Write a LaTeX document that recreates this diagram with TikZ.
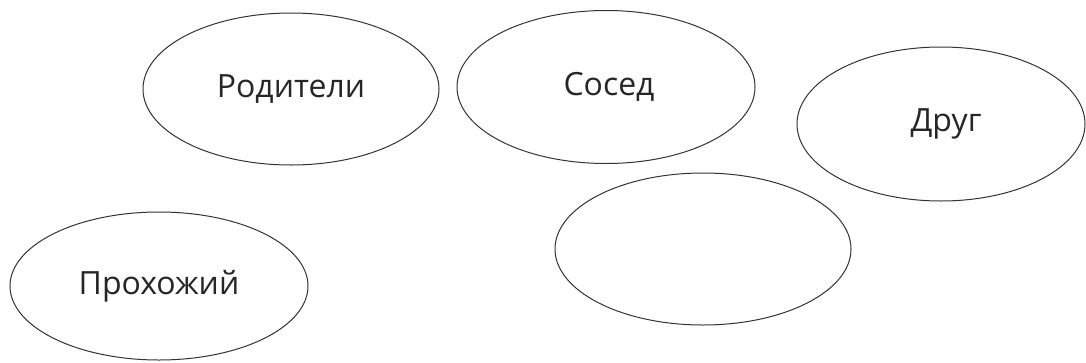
\documentclass[tikz,border=0pt]{standalone}
\usepackage{fontspec}
\setmainfont{Open Sans}
\usetikzlibrary{shapes.geometric}
\begin{document}
\begin{tikzpicture}[x=1pt,y=-1pt,
  oval/.style={ellipse,draw=black!80,line width=1pt,minimum width=296pt,minimum height=152pt,inner sep=0pt,
    font=\fontsize{32}{38}\selectfont,text=black!85}]
\useasboundingbox (0,0) rectangle (1086,362);
\node[oval] (rod) at (291,89) {Родители};
\node[oval,minimum width=298pt,minimum height=153pt] (sos) at (606,87) {\hspace*{6pt}Сосед};
\node[oval,minimum width=288pt,minimum height=154pt] (drug) at (941,124) {\hspace*{10pt}Друг};
\node[oval] (empty) at (703,249) {};
\node[oval,minimum width=298pt,minimum height=148pt] (prox) at (159,286) {Прохожий};
\end{tikzpicture}
\end{document}
